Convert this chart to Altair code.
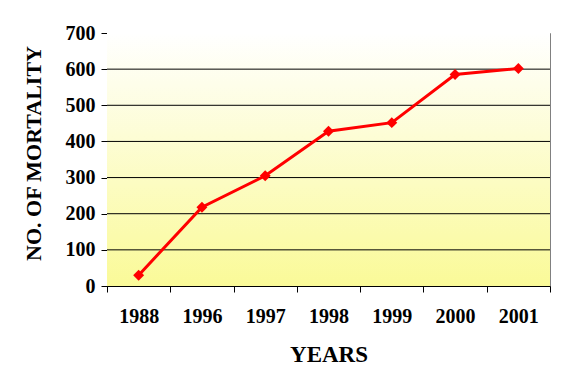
import altair as alt
import pandas as pd

years = ["1988", "1996", "1997", "1998", "1999", "2000", "2001"]
mortality = [30, 218, 305, 428, 452, 585, 602]
y_ticks = [0, 100, 200, 300, 400, 500, 600, 700]

df = pd.DataFrame({"year": years, "value": mortality})
grid_df = pd.DataFrame({"value": y_ticks[1:-1]})

W, H = 443, 253
FONT = "Liberation Serif"

bg = alt.Chart(df).mark_rect(
    color=alt.Gradient(
        gradient="linear",
        x1=0, y1=0, x2=0, y2=1,
        stops=[alt.GradientStop(color="#FFFFFF", offset=0),
               alt.GradientStop(color="#FAFA98", offset=1)],
    ),
    strokeWidth=0,
).encode(
    x=alt.value(0), x2=alt.value(W), y=alt.value(0), y2=alt.value(H)
)

x_enc = alt.X(
    "year:O",
    sort=years,
    scale=alt.Scale(paddingInner=0, paddingOuter=0),
    axis=alt.Axis(
        title="YEARS",
        labelAngle=0,
        tickBand="extent",
        tickSize=6,
        tickColor="black",
        domainColor="black",
        labelBaseline="alphabetic",
        labelPadding=30,
        labelFont=FONT,
        labelFontSize=20,
        labelFontWeight="bold",
        labelColor="black",
        titleFont=FONT,
        titleFontSize=23,
        titleFontWeight="bold",
        titleColor="black",
        titleBaseline="alphabetic",
        titleY=75,
        grid=False,
    ),
)

y_scale = alt.Scale(domain=[0, 700], nice=False)

y_enc = alt.Y(
    "value:Q",
    scale=y_scale,
    axis=alt.Axis(
        title="NO. OF MORTALITY",
        values=y_ticks,
        tickSize=6,
        tickColor="black",
        domainColor="black",
        labelPadding=6,
        labelFont=FONT,
        labelFontSize=20,
        labelFontWeight="bold",
        labelColor="black",
        titleFont=FONT,
        titleFontSize=22,
        titleFontWeight="bold",
        titleColor="black",
        titleBaseline="middle",
        titleX=-74,
        titleY=120,
        grid=False,
    ),
)

grid = alt.Chart(grid_df).mark_rule(color="black", strokeWidth=1).encode(y=y_enc)

line = alt.Chart(df).mark_line(color="#FF0000", strokeWidth=3).encode(x=x_enc, y=y_enc)
pts = alt.Chart(df).mark_point(
    shape="diamond", filled=True, color="#FF0000", size=120, opacity=1
).encode(x=x_enc, y=y_enc)

chart = alt.layer(bg, grid, line, pts).properties(
    width=W,
    height=H,
    autosize=alt.AutoSizeParams(type="none"),
    padding={"left": 99, "top": 25, "right": 8, "bottom": 96},
    background="white",
).configure_view(stroke="#808080", strokeWidth=1)

chart.save("out.html", embed_options={"renderer": "svg", "actions": False})
